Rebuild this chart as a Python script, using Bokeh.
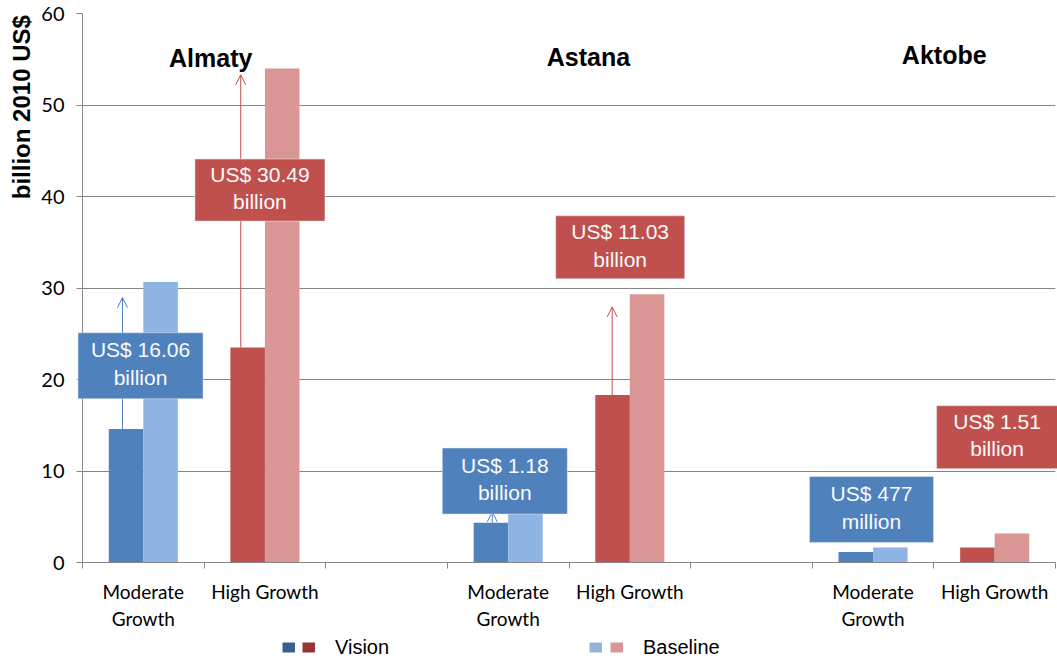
from bokeh.plotting import figure
from bokeh.layouts import column
from bokeh.models import (Range1d, FixedTicker, Label, Legend, LegendItem, Arrow,
                          OpenHead, ColumnDataSource, Title)
from bokeh.core.properties import value
from bokeh.embed import file_html
from bokeh.resources import INLINE

# ---------------- data ----------------
cities = ["Almaty", "Astana", "Aktobe"]
scenarios = ["Moderate Growth", "High Growth"]
tick_labels = ["Moderate\nGrowth", "High Growth", ""]
vision = [14.6, 23.5, 4.35, 18.3, 1.15, 1.65]      # billion 2010 US$
baseline = [30.65, 54.0, 5.53, 29.33, 1.63, 3.16]
gap_labels = ["US$ 16.06\nbillion", "US$ 30.49\nbillion", "US$ 1.18\nbillion",
              "US$ 11.03\nbillion", "US$ 477\nmillion", "US$ 1.51\nbillion"]
series_names = ["Vision", "Baseline"]
y_ticks = [0, 10, 20, 30, 40, 50, 60]
y_title = "billion 2010  US$"

# ---------------- styles ----------------
VIS = ["#4F81BD", "#C0504D"]
BASE = ["#8EB4E3", "#D99694"]
LEG_VIS = ["#376092", "#963634"]
LEG_BASE = ["#95B3D7", "#DA9694"]
GRID = "#868686"
BAR_W = 0.284
W, H_MAIN, H_LEG = 1057, 633, 26
LEFT = 82

n_slots = 3 * len(cities) - 1
slot_of = [3 * i + j for i in range(len(cities)) for j in range(len(scenarios))]
centers = [s + 0.5 for s in slot_of]

p = figure(width=W, height=H_MAIN, output_backend="svg", toolbar_location=None,
           x_range=Range1d(0, n_slots), y_range=Range1d(y_ticks[0], y_ticks[-1]),
           min_border_left=LEFT, min_border_right=2, min_border_top=13, min_border_bottom=64)
p.outline_line_color = None
p.background_fill_color = "white"

# axes
p.xgrid.grid_line_color = None
p.ygrid.ticker = FixedTicker(ticks=y_ticks)
p.ygrid.grid_line_color = GRID
p.yaxis.ticker = FixedTicker(ticks=y_ticks, minor_ticks=[])
for ax in (p.xaxis[0], p.yaxis[0]):
    ax.axis_line_color = GRID
    ax.major_label_text_font = "Lato"
    ax.major_label_text_font_size = "19px"
    ax.major_label_text_color = "#000000"
p.yaxis.major_label_text_font_size = "20px"
p.yaxis.major_tick_line_color = GRID
p.yaxis.major_tick_out = 6
p.yaxis.major_tick_in = 0
p.yaxis.major_label_standoff = 12

x_centers = [s + 0.5 for s in range(n_slots)]
p.xaxis.ticker = FixedTicker(ticks=x_centers, minor_ticks=list(range(n_slots + 1)))
p.xaxis.major_tick_line_color = None
p.xaxis.minor_tick_line_color = GRID
p.xaxis.minor_tick_out = 6
p.xaxis.minor_tick_in = 0
p.xaxis.major_label_standoff = 11
p.xaxis.major_label_overrides = {c: tick_labels[i % 3] for i, c in enumerate(x_centers)}

# y-axis title (top aligned, in the left panel)
p.add_layout(Title(text=y_title, align="right", offset=-5, standoff=8,
                   text_font="Liberation Sans", text_font_style="bold",
                   text_font_size="24px", text_color="#000000"), "left")

# bars
src = ColumnDataSource(dict(
    x_vis=[c - BAR_W / 2 for c in centers],
    x_base=[c + BAR_W / 2 for c in centers],
    vision=vision, baseline=baseline,
    vis_color=[VIS[k % 2] for k in range(len(centers))],
    base_color=[BASE[k % 2] for k in range(len(centers))],
))
p.vbar(x="x_vis", top="vision", width=BAR_W, source=src, fill_color="vis_color", line_color=None)
p.vbar(x="x_base", top="baseline", width=BAR_W, source=src, fill_color="base_color", line_color=None)

# arrows (Vision -> Baseline gap)
arrow_idx = [0, 1, 2, 3]
arrow_dx = [-0.171, -0.199, -0.131, -0.145]
arrow_short = [1.7, 0.7, 0.0, 1.4]
for k, dx, sh in zip(arrow_idx, arrow_dx, arrow_short):
    col = VIS[k % 2]
    p.add_layout(Arrow(x_start=centers[k] + dx, y_start=vision[k],
                       x_end=centers[k] + dx, y_end=baseline[k] - sh,
                       line_color=col, line_width=1,
                       end=OpenHead(size=10, line_color=col, line_width=1)))

# annotation boxes
box_dx = [-0.023, -0.041, -0.028, -0.079, -0.013, 0.02]
box_y = [21.5, 40.7, 8.9, 34.45, 5.8, 13.7]
box_w = [125, 130, 125, 129, 124, 121]
box_h = [66, 62, 66, 63, 66, 63]
bsrc = ColumnDataSource(dict(
    x=[c + d for c, d in zip(centers, box_dx)], y=box_y, w=box_w, h=box_h,
    color=[VIS[k % 2] for k in range(len(centers))], text=gap_labels,
))
p.rect(x="x", y="y", width="w", height="h", width_units="screen", height_units="screen",
       source=bsrc, fill_color="color", line_color="#E6ECF5", line_alpha=0.5,
       line_width=1, level="overlay")
p.text(x="x", y="y", text="text", source=bsrc, text_color="#FAFAFA",
       text_font=value("Liberation Sans"), text_font_size="21px", y_offset=-2,
       text_align="center", text_baseline="middle", text_line_height=1.2, level="overlay")

# city titles
title_x = [1.054, 4.16, 7.085]
title_y = [55.1, 55.2, 55.45]
for name, tx, ty in zip(cities, title_x, title_y):
    p.add_layout(Label(x=tx, y=ty, text=name, text_font="Liberation Sans",
                       text_font_style="bold", text_font_size="25px",
                       text_align="center", text_baseline="alphabetic", text_color="#000000"))

# ---------------- legend strip ----------------
lg = figure(width=W, height=H_LEG, output_backend="svg", toolbar_location=None,
            x_axis_type=None, y_axis_type=None, min_border=0)
lg.outline_line_color = None
lg.grid.visible = False

# swatch pairs: (colour, label, x position on the page, label standoff)
leg_specs = [(LEG_VIS[0], " ", 282, 0), (LEG_VIS[1], series_names[0], 302, 20),
             (LEG_BASE[0], " ", 589, 0), (LEG_BASE[1], series_names[1], 610, 20)]
for color, lab, lx, standoff in leg_specs:
    # single-point line: invisible in the strip, drawn as a 13x10 swatch in the legend
    r = lg.line(x=[0], y=[0], line_color=color, line_width=10)
    lg.add_layout(Legend(items=[LegendItem(label=value(lab), renderers=[r])],
                         location=(lx - LEFT, 0), orientation="horizontal",
                         glyph_width=13, glyph_height=24, label_height=24, label_width=0,
                         label_standoff=standoff, padding=0, margin=0, spacing=0,
                         border_line_color=None, background_fill_alpha=0,
                         label_text_font="Liberation Sans", label_text_font_size="20px",
                         label_text_color="#000000"))

layout = column(p, lg, spacing=0)
open("out.html", "w").write(file_html(layout, INLINE))
